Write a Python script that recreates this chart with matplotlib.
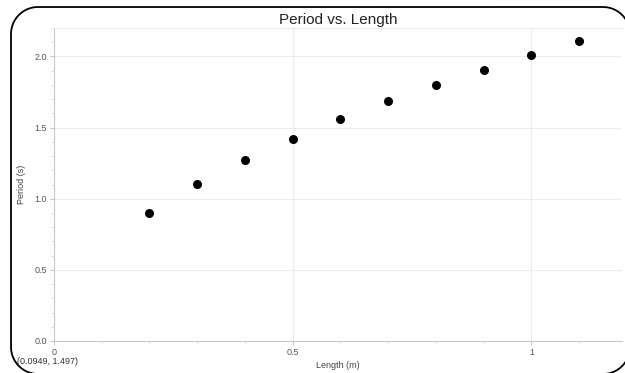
import numpy as np
import matplotlib.pyplot as plt
from matplotlib.lines import Line2D
from matplotlib.transforms import IdentityTransform
from matplotlib.ticker import MultipleLocator, FixedLocator, FixedFormatter

plt.rcParams['font.family'] = ['Liberation Sans', 'DejaVu Sans']

length = [0.2, 0.3, 0.4, 0.5, 0.6, 0.7, 0.8, 0.9, 1.0, 1.1]
period = [0.90, 1.105, 1.275, 1.42, 1.56, 1.685, 1.80, 1.908, 2.012, 2.108]
x_ticks = [0, 0.5, 1]
x_labels = ['0', '0.5', '1']
y_ticks = [0.0, 0.5, 1.0, 1.5, 2.0]
y_labels = ['0.0', '0.5', '1.0', '1.5', '2.0']

fig = plt.figure(figsize=(6.25, 3.73), dpi=100)
ax = fig.add_axes([0.0864, 0.0858, 0.909, 0.839])

ax.scatter(length, period, s=30, color='black', zorder=3)

ax.set_xlim(0, 1.19)
ax.set_ylim(0, 2.2)
ax.xaxis.set_major_locator(FixedLocator(x_ticks))
ax.xaxis.set_major_formatter(FixedFormatter(x_labels))
ax.yaxis.set_major_locator(FixedLocator(y_ticks))
ax.yaxis.set_major_formatter(FixedFormatter(y_labels))
ax.xaxis.set_minor_locator(MultipleLocator(0.1))
ax.yaxis.set_minor_locator(MultipleLocator(0.1))

ax.grid(True, which='major', color='#ececec', linewidth=0.8)
ax.set_axisbelow(True)
for side in ['left', 'bottom']:
    ax.spines[side].set_color('#c8c8c8')
ax.spines['top'].set_color('#ececec')
ax.spines['right'].set_visible(False)

ax.tick_params(which='major', length=3, width=0.6, color='#bbbbbb',
               labelsize=6.5, labelcolor='#555555', pad=2)
ax.tick_params(which='minor', length=2, width=0.5, color='#d0d0d0')

ax.set_title('Period vs. Length', fontsize=11, color='#222222', pad=3)
ax.set_xlabel('Length (m)', fontsize=6.5, color='#444444', labelpad=3)
ax.set_ylabel('Period (s)', fontsize=6.5, color='#444444', labelpad=6)

fig.text(17 / 625, 11 / 373, '(0.0949, 1.497)', fontsize=6.5,
         color='#333333', va='center')

# rounded frame around the graph, in pixels from bottom-left;
# right and bottom edges sit just past the image border
left, right, top, bottom, r = 11, 630, 366, -1, 27
t = np.linspace(0, np.pi / 2, 30)
xs = np.concatenate([
    right - r + r * np.sin(t),                # bottom-right corner
    [right, right],
    right - r + r * np.cos(t),                # top-right corner
    [right - r, left + r],
    left + r - r * np.sin(t),                 # top-left corner
    [left, left],
    left + r - r * np.cos(t),                 # bottom-left corner
    [left + r, right - r],
])
ys = np.concatenate([
    bottom + r - r * np.cos(t),
    [bottom + r, top - r],
    top - r + r * np.sin(t),
    [top, top],
    top - r + r * np.cos(t),
    [top - r, bottom + r],
    bottom + r - r * np.sin(t),
    [bottom, bottom],
])
fig.add_artist(Line2D(xs, ys, transform=IdentityTransform(), color='black',
                      linewidth=1.3, solid_joinstyle='round'))

fig.savefig('out.png', dpi=100)
